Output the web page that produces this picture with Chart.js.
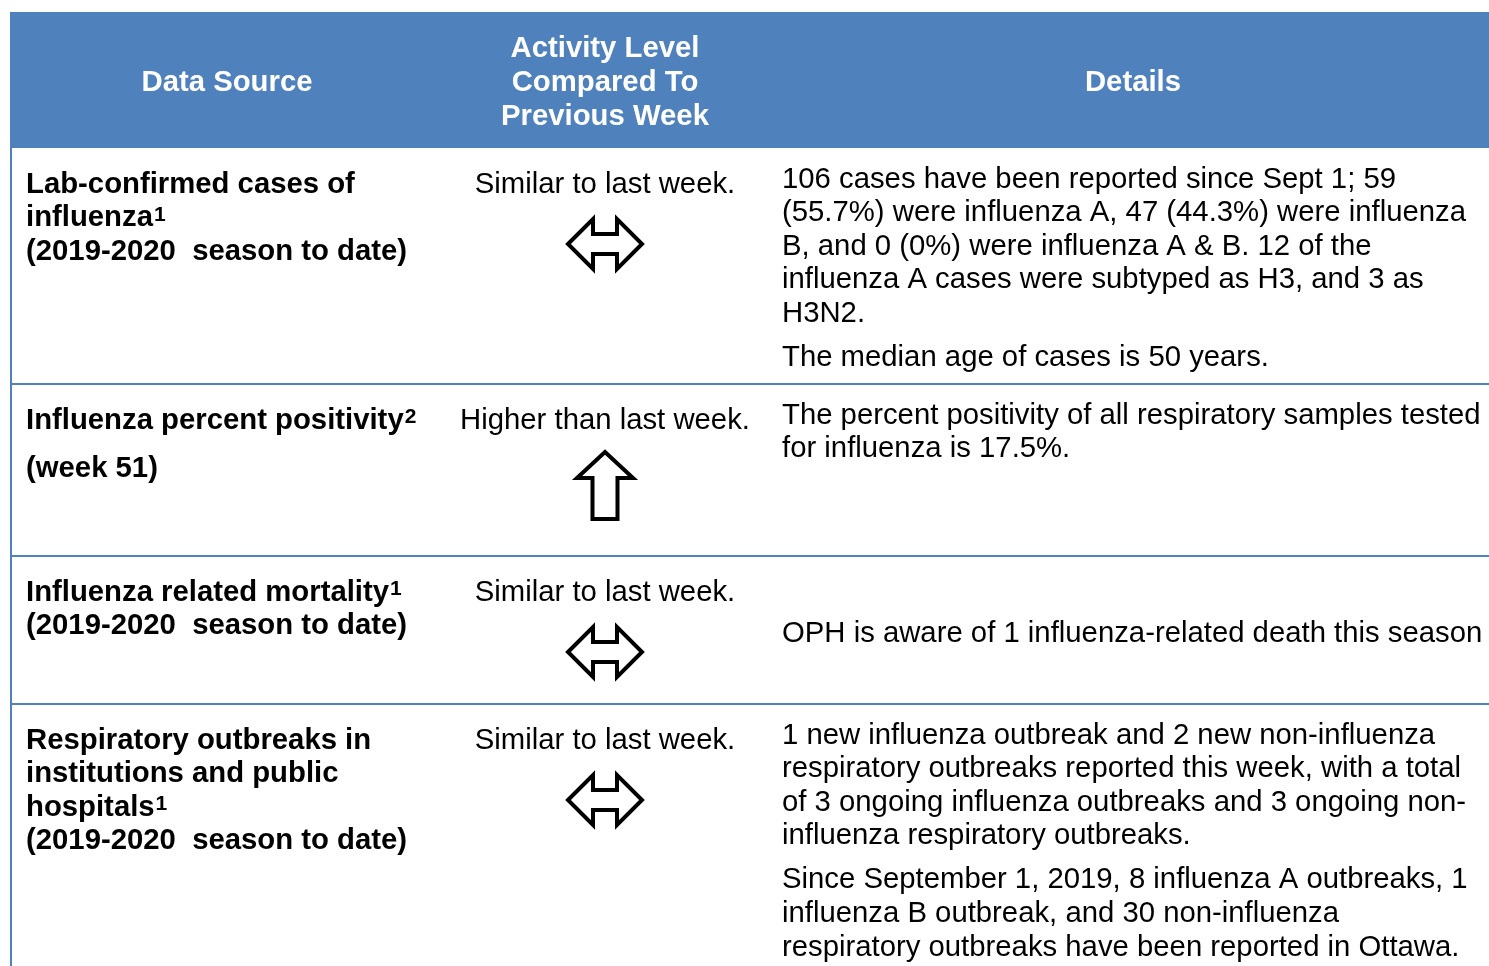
<!DOCTYPE html>
<html>
<head>
<meta charset="utf-8">
<script src="https://cdn.jsdelivr.net/npm/chart.js@4"></script>
<style>
  html, body { margin: 0; padding: 0; background: #fff; }
  #wrap { width: 1489px; height: 966px; position: relative; }
</style>
</head>
<body>
<div id="wrap"><canvas id="tableChart"></canvas></div>
<script>
// table content
const headers = [
    ['Data Source'],
    ['Activity Level', 'Compared To', 'Previous Week'],
    ['Details']
];

// "^" marks a superscript; each inner array is a paragraph
const sources = [
    [['Lab-confirmed cases of', 'influenza^1', '(2019-2020  season to date)']],
    [['Influenza percent positivity^2'], ['(week 51)']],
    [['Influenza related mortality^1', '(2019-2020  season to date)']],
    [['Respiratory outbreaks in', 'institutions and public', 'hospitals^1', '(2019-2020  season to date)']]
];

const activity = ['Similar to last week.', 'Higher than last week.', 'Similar to last week.', 'Similar to last week.'];
const arrows = ['both', 'up', 'both', 'both'];

const details = [
    [
        ['106 cases have been reported since Sept 1; 59', '(55.7%) were influenza A, 47 (44.3%) were influenza',
         'B, and 0 (0%) were influenza A & B. 12 of the', 'influenza A cases were subtyped as H3, and 3 as', 'H3N2.'],
        ['The median age of cases is 50 years.']
    ],
    [['The percent positivity of all respiratory samples tested', 'for influenza is 17.5%.']],
    [['OPH is aware of 1 influenza-related death this season']],
    [
        ['1 new influenza outbreak and 2 new non-influenza', 'respiratory outbreaks reported this week, with a total',
         'of 3 ongoing influenza outbreaks and 3 ongoing non-', 'influenza respiratory outbreaks.'],
        ['Since September 1, 2019, 8 influenza A outbreaks, 1', 'influenza B outbreak, and 30 non-influenza',
         'respiratory outbreaks have been reported in Ottawa.']
    ]
];

// layout (pixel units of the page)
const layout = {
    left: 10, right: 1489, top: 12, headBottom: 148,
    rowBottoms: [384, 556, 704, 980],
    colText: [26, 605, 782],
    headCenters: [227, 605, 1133],
    lineH: 33.6,
    blue: '#4F81BD',
    font: '"Liberation Sans", Arial, Helvetica, sans-serif',
    size: 29.3
};

function drawRich(ctx, text, x, y, align, bold) {
    const parts = text.split('^');
    const mainFont = (bold ? 'bold ' : '') + layout.size + 'px ' + layout.font;
    const supFont = (bold ? 'bold ' : '') + Math.round(layout.size * 0.7) + 'px ' + layout.font;
    ctx.font = mainFont;
    let w = ctx.measureText(parts[0]).width;
    let supW = 0;
    if (parts[1]) { ctx.font = supFont; supW = ctx.measureText(parts[1]).width; }
    let x0 = align === 'center' ? x - (w + supW) / 2 : x;
    ctx.textAlign = 'left';
    ctx.font = mainFont;
    ctx.fillText(parts[0], x0, y);
    if (parts[1]) {
        ctx.font = supFont;
        ctx.fillText(parts[1], x0 + w + 1, y - 3);
    }
}

function drawArrow(ctx, type, cx, cy) {
    ctx.beginPath();
    if (type === 'both') {
        const pts = [[-37, 0], [-12, -25], [-12, -10], [12, -10], [12, -25], [37, 0],
                     [12, 25], [12, 10], [-12, 10], [-12, 25]];
        pts.forEach((p, i) => i ? ctx.lineTo(cx + p[0], cy + p[1]) : ctx.moveTo(cx + p[0], cy + p[1]));
    } else {
        const pts = [[0, -33], [28, -7], [12.5, -7], [12.5, 34], [-12.5, 34], [-12.5, -7], [-28, -7]];
        pts.forEach((p, i) => i ? ctx.lineTo(cx + p[0], cy + p[1]) : ctx.moveTo(cx + p[0], cy + p[1]));
    }
    ctx.closePath();
    ctx.lineWidth = 4;
    ctx.lineJoin = 'miter';
    ctx.strokeStyle = '#000';
    ctx.stroke();
}

const tablePlugin = {
    id: 'tablePlugin',
    afterDraw(chart) {
        const ctx = chart.ctx;
        const sx = chart.scales.x, sy = chart.scales.y;
        const X = v => sx.getPixelForValue(v);
        const Y = v => sy.getPixelForValue(v);
        ctx.save();

        // header band
        ctx.fillStyle = layout.blue;
        ctx.fillRect(X(layout.left), Y(layout.top), X(layout.right) - X(layout.left), Y(layout.headBottom) - Y(layout.top));
        ctx.fillStyle = '#fff';
        ctx.textBaseline = 'middle';
        const headMid = (layout.top + layout.headBottom) / 2 + 3;
        headers.forEach((lines, c) => {
            lines.forEach((t, i) => {
                const y = headMid + (i - (lines.length - 1) / 2) * 34;
                drawRich(ctx, t, X(layout.headCenters[c]), Y(y), 'center', true);
            });
        });

        // left border + row rules
        ctx.fillStyle = layout.blue;
        ctx.fillRect(X(layout.left), Y(layout.headBottom), 2, Y(966) - Y(layout.headBottom));
        layout.rowBottoms.slice(0, 3).forEach(b => {
            ctx.fillRect(X(layout.left), Y(b - 1), X(layout.right) - X(layout.left), 2);
        });

        // rows
        ctx.fillStyle = '#000';
        sources.forEach((paras, r) => {
            const top = r === 0 ? layout.headBottom : layout.rowBottoms[r - 1];
            const bottom = layout.rowBottoms[r];

            // data source column
            let y = top + 36.5;
            paras.forEach((lines, p) => {
                if (p) y += 15;
                lines.forEach(t => { drawRich(ctx, t, X(layout.colText[0]), Y(y), 'left', true); y += layout.lineH; });
            });

            // activity column
            drawRich(ctx, activity[r], X(layout.colText[1]), Y(top + 36.5), 'center', false);
            drawArrow(ctx, arrows[r], X(layout.colText[1]), Y(top + (arrows[r] === 'up' ? 101 : 96)));

            // details column
            const dp = details[r];
            const nLines = dp.reduce((s, l) => s + l.length, 0);
            let dy = top + 31.5;
            if (nLines === 1) dy = (top + bottom) / 2 + 3.5;
            dp.forEach((lines, p) => {
                if (p) dy += 10.5;
                lines.forEach(t => { drawRich(ctx, t, X(layout.colText[2]), Y(dy), 'left', false); dy += layout.lineH; });
            });
        });
        ctx.restore();
    }
};

new Chart(document.getElementById('tableChart'), {
    type: 'scatter',
    data: { datasets: [{ data: [] }] },
    options: {
        responsive: true,
        maintainAspectRatio: false,
        animation: false,
        layout: { padding: 0 },
        plugins: { legend: { display: false }, tooltip: { enabled: false } },
        scales: {
            x: { type: 'linear', min: 0, max: 1489, display: false },
            y: { type: 'linear', min: 0, max: 966, reverse: true, display: false }
        }
    },
    plugins: [tablePlugin]
});
</script>
</body>
</html>
